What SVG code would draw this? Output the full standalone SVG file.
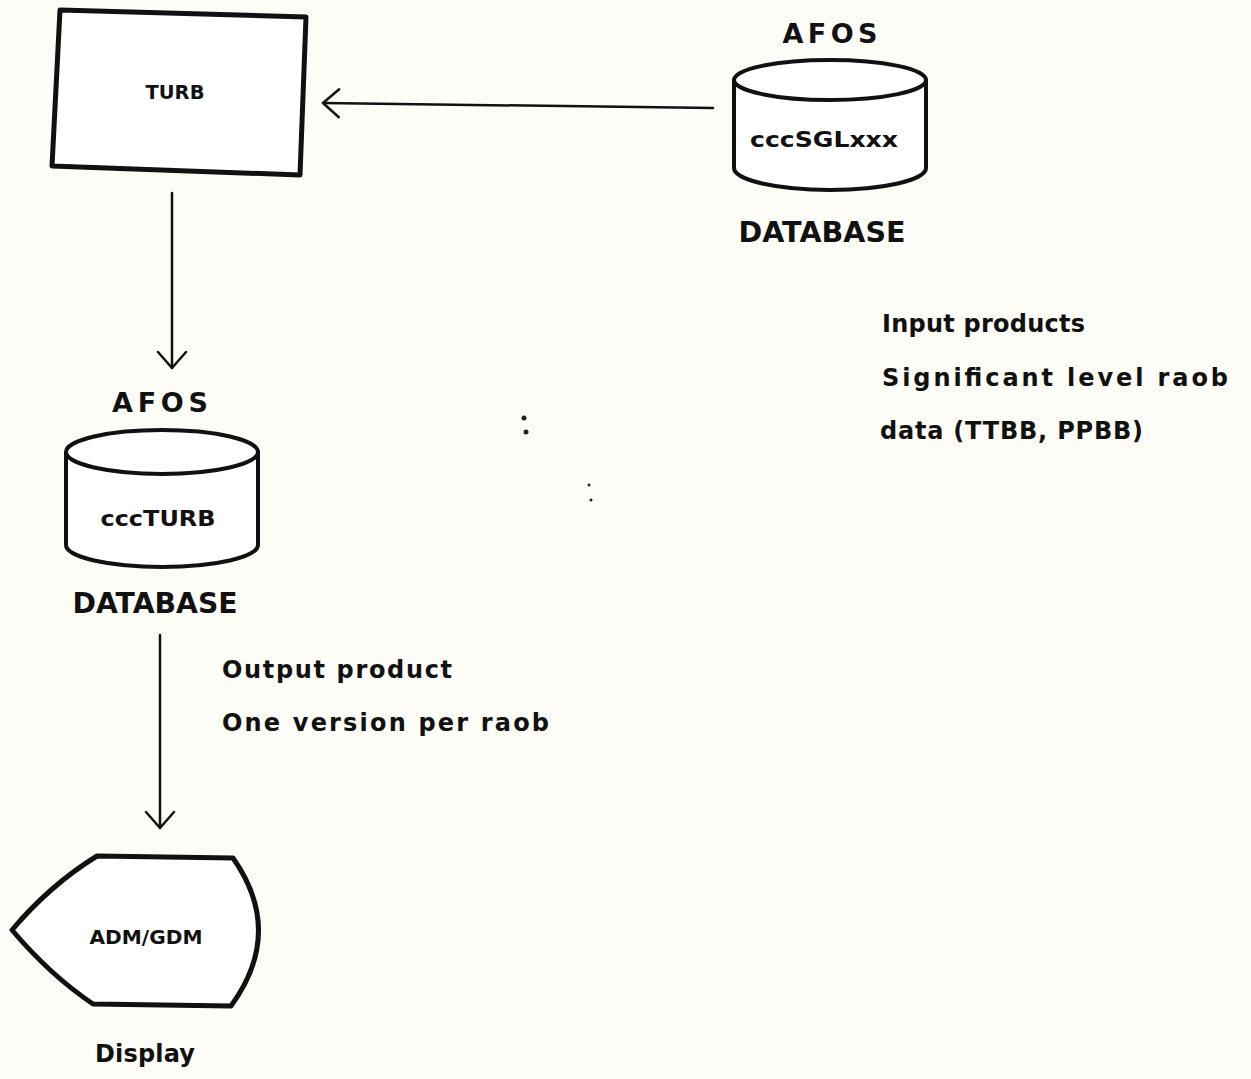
<svg xmlns="http://www.w3.org/2000/svg" width="1251" height="1079" viewBox="0 0 1251 1079">
<defs>
<style>
.t{font-family:"DejaVu Sans","Liberation Sans",sans-serif;font-weight:bold;fill:#111;}
.s{fill:none;stroke:#111;stroke-linejoin:round;stroke-linecap:round;}
.shape{fill:#fff;stroke:#111;stroke-width:5;stroke-linejoin:round;}
.cyl{fill:#fff;stroke:#111;stroke-width:4;}
</style>
<marker id="ah" viewBox="0 0 20 32" refX="18" refY="16" markerWidth="20" markerHeight="32" markerUnits="userSpaceOnUse" orient="auto">
<path d="M2,2 L18,16 L2,30" fill="none" stroke="#111" stroke-width="2.5" stroke-linecap="round" stroke-linejoin="round"/>
</marker>
</defs>
<rect width="1251" height="1079" fill="#fdfcf6"/>
<g id="connectors">
<line class="s" x1="713" y1="108" x2="323" y2="103" stroke-width="2.5" marker-end="url(#ah)"/>
<line class="s" x1="172" y1="193" x2="172" y2="368" stroke-width="2.5" marker-end="url(#ah)"/>
<line class="s" x1="160" y1="635" x2="160" y2="828" stroke-width="2.5" marker-end="url(#ah)"/>
</g>
<g id="turb">
<path class="shape" d="M60,10 L306,17 L300,175 L52,166 Z"/>
<text class="t" x="175" y="99" font-size="19" text-anchor="middle" textLength="59" lengthAdjust="spacingAndGlyphs">TURB</text>
</g>
<g id="afos-input">
<text class="t" x="830" y="43" font-size="27" text-anchor="middle" textLength="95" lengthAdjust="spacing">AFOS</text>
<path class="cyl" d="M734,80 L734,168 A96,22 0 0 0 926,168 L926,80"/>
<ellipse class="cyl" cx="830" cy="80" rx="96" ry="20"/>
<text class="t" x="824" y="147" font-size="21" text-anchor="middle" textLength="148" lengthAdjust="spacingAndGlyphs">cccSGLxxx</text>
<text class="t" x="822" y="242" font-size="28" text-anchor="middle" textLength="167" lengthAdjust="spacingAndGlyphs">DATABASE</text>
</g>
<g id="afos-output">
<text class="t" x="160" y="412" font-size="27" text-anchor="middle" textLength="96" lengthAdjust="spacing">AFOS</text>
<path class="cyl" d="M66,452 L66,545 A96,22 0 0 0 258,545 L258,452"/>
<ellipse class="cyl" cx="162" cy="452" rx="96" ry="22"/>
<text class="t" x="158" y="526" font-size="21" text-anchor="middle" textLength="115" lengthAdjust="spacingAndGlyphs">cccTURB</text>
<text class="t" x="155" y="613" font-size="28" text-anchor="middle" textLength="165" lengthAdjust="spacingAndGlyphs">DATABASE</text>
</g>
<g id="display">
<path class="shape" d="M97,856 L233,858 Q285,932 231,1006 L93,1004 Q50,975 12,930 Q50,885 97,856 Z"/>
<text class="t" x="146" y="944" font-size="19" text-anchor="middle" textLength="113" lengthAdjust="spacingAndGlyphs">ADM/GDM</text>
<text class="t" x="145" y="1062" font-size="24" text-anchor="middle" textLength="100" lengthAdjust="spacing">Display</text>
</g>
<g id="notes">
<text class="t" x="882" y="332" font-size="24" textLength="203" lengthAdjust="spacing">Input products</text>
<text class="t" x="882" y="386" font-size="24" textLength="346" lengthAdjust="spacing">Significant level raob</text>
<text class="t" x="880" y="439" font-size="24" textLength="263" lengthAdjust="spacing">data (TTBB, PPBB)</text>
<text class="t" x="222" y="678" font-size="24" textLength="230" lengthAdjust="spacing">Output product</text>
<text class="t" x="222" y="731" font-size="24" textLength="327" lengthAdjust="spacing">One version per raob</text>
</g>
<g id="specks" fill="#222">
<circle cx="524" cy="418" r="2.5"/>
<circle cx="526" cy="432" r="2.5"/>
<circle cx="589" cy="485" r="1.5"/>
<circle cx="591" cy="500" r="1.5"/>
</g>
</svg>
